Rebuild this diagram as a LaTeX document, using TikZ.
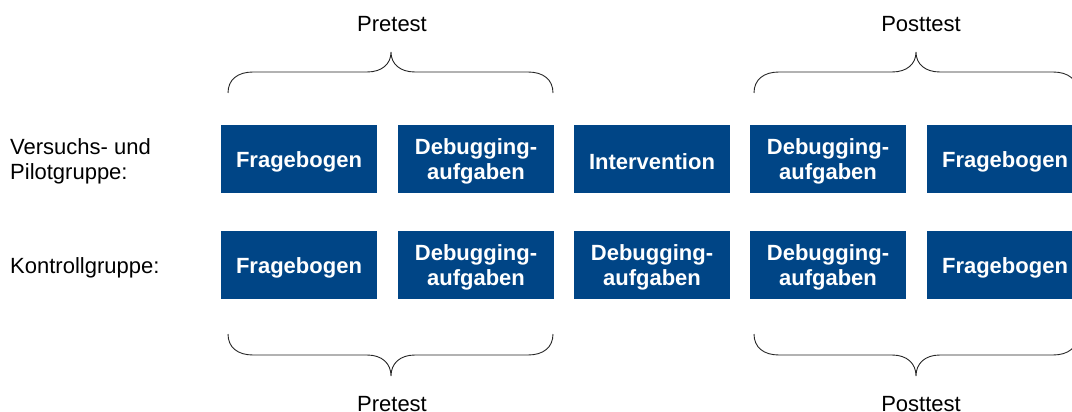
\documentclass[tikz,border=0pt]{standalone}
\usepackage{fontspec}
\setmainfont{Liberation Sans}
\definecolor{boxblue}{HTML}{004586}
% curly brace: left x, right x, tip x, end y, flat y, tip y
\newcommand\curlybrace[6]{%
  \draw[bracestyle] (#1,#4) .. controls (#1,{#4+(#5-#4)*0.65}) and ({#1+10},#5) .. ({#1+25},#5)
    -- ({#3-24},#5) .. controls ({#3-9},#5) and (#3,{#6+(#5-#6)*0.6}) .. (#3,#6)
    .. controls (#3,{#6+(#5-#6)*0.6}) and ({#3+9},#5) .. ({#3+24},#5)
    -- ({#2-25},#5) .. controls ({#2-10},#5) and (#2,{#4+(#5-#4)*0.65}) .. (#2,#4);}
\tikzset{
  boxtext/.style={text=white, font=\fontsize{22}{25.5}\selectfont\bfseries,
    inner sep=0pt, align=center, yshift=-2.5pt},
  stage/.style={fill=boxblue, minimum width=156pt, minimum height=68pt, inner sep=0pt,
    label={[boxtext]center:#1}},
  grouplabel/.style={font=\fontsize{22}{25}\selectfont, anchor=west, align=left, inner sep=0pt},
  phaselabel/.style={font=\fontsize{22}{25}\selectfont, anchor=base, inner sep=0pt},
  bracestyle/.style={draw=black!85, line width=0.9pt}
}
\begin{document}
\begin{tikzpicture}[x=1pt, y=-1pt]
\useasboundingbox (0,0) rectangle (1072,412);
\clip (0,0) rectangle (1072,412);

% group labels
\node[grouplabel] (gv) at (10,161) {Versuchs- und\\Pilotgruppe:};
\node[grouplabel] (gk) at (10,267.5) {Kontrollgruppe:};

% experimental and pilot group
\node[stage={Fragebogen}] (v1) at (299,159) {};
\node[stage={Debugging-\\aufgaben}] (v2) at (476,159) {};
\node[stage={Intervention}] (v3) at (652,159) {};
\node[stage={Debugging-\\aufgaben}] (v4) at (828,159) {};
\node[stage={Fragebogen}] (v5) at (1005,159) {};

% control group
\node[stage={Fragebogen}] (k1) at (299,265) {};
\node[stage={Debugging-\\aufgaben}] (k2) at (476,265) {};
\node[stage={Debugging-\\aufgaben}] (k3) at (652,265) {};
\node[stage={Debugging-\\aufgaben}] (k4) at (828,265) {};
\node[stage={Fragebogen}] (k5) at (1005,265) {};

% phase braces
\curlybrace{228}{553}{391}{93}{72}{52}
\curlybrace{754}{1078}{916}{93}{72}{52}
\curlybrace{228}{553}{391}{334}{355}{376}
\curlybrace{754}{1078}{916}{334}{355}{376}

% phase labels
\node[phaselabel] (pretop) at (392,31.5) {Pretest};
\node[phaselabel] (posttop) at (921,31.5) {Posttest};
\node[phaselabel] (prebot) at (392,411) {Pretest};
\node[phaselabel] (postbot) at (921,411) {Posttest};
\end{tikzpicture}
\end{document}
